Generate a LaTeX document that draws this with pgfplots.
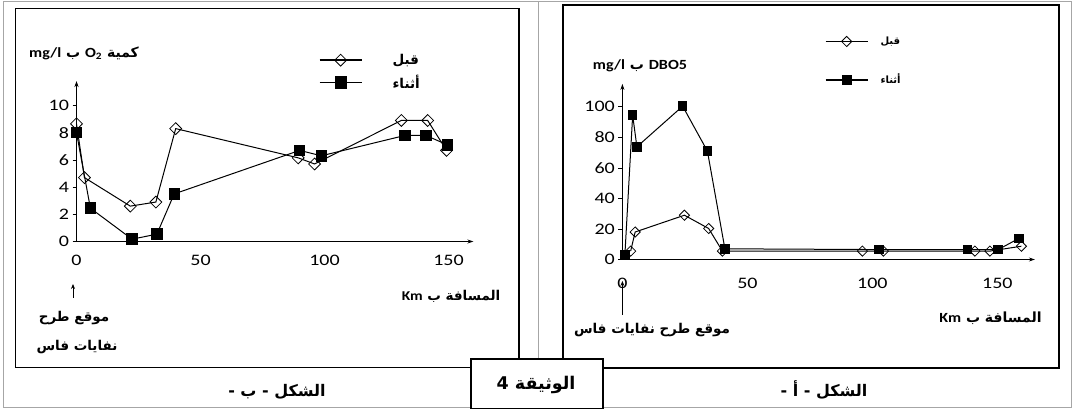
\documentclass[border=0pt]{standalone}
\usepackage{fontspec}
\usepackage{pgfplots}
\pgfplotsset{compat=1.18}
\usetikzlibrary{arrows.meta}
\setmainfont{Carlito}
\newfontfamily\arabicfont[Script=Arabic]{DejaVu Sans}
\newfontfamily\tickfont[FakeStretch=1.25]{Carlito}
\newfontfamily\latinb[FakeStretch=1.15]{Carlito}
\TeXXeTstate=1
\newcommand{\AR}[1]{{\arabicfont\bfseries\beginR #1\endR}}
\newcommand{\LT}[1]{\beginL{\latinb\bfseries #1}\endL}
\newcommand{\fs}[1]{\fontsize{#1}{#1}\selectfont}
\pgfplotsset{
  chartbase/.style={
    anchor=south west, enlargelimits=false, clip=false,
    axis lines=left,
    axis line style={line width=0.8pt, -{Stealth[length=6pt,width=4pt]}},
    xtick={0,50,100,150},
    xtick style={draw=none},
    ytick style={line width=0.6pt, black},
    tick align=outside, major tick length=4pt,
    tick label style={font=\tickfont\fs{16}},
    /pgf/number format/assume math mode=true,
    legend cell align=left,
    legend image code/.code={\draw[mark repeat=2,mark phase=2,#1] plot coordinates {(0pt,0pt) (21pt,0pt) (42pt,0pt)};},
    every legend image post/.style={line width=1.8pt},
  },
  before/.style={black, line width=1pt, mark=square, mark size=4.2pt, mark options={rotate=45, fill=white, solid, line width=0.8pt}},
  during/.style={black, line width=1pt, mark=square*, mark size=5.2pt, mark options={solid}},
}
\begin{document}
\begin{tikzpicture}[x=1pt,y=1pt]
\path (0,0) rectangle (1073,409);
% frames
\draw[gray!70, line width=1pt] (3,1) rectangle (538,407.5);
\draw[gray!70, line width=1pt] (538,1) rectangle (1071,407.5);
\draw[black, line width=1.6pt] (15.5,41.5) rectangle (519,400.5);
\draw[black, line width=1.6pt] (563,41) rectangle (1059,404);
\draw[black, line width=1.2pt, fill=white] (471,0.5) rectangle (603,50);
\node at (536,24) {\fs{17.5}\AR{الوثيقة 4}};
\node at (277,17.3) {\fs{16}\AR{الشكل - ب -}};
\node at (824,19) {\fs{16}\AR{الشكل - أ -}};

% ---------- Figure b (left) ----------
\begin{axis}[chartbase,
  at={(76.5pt,167.5pt)},
  x=2.48pt, y=13.6pt,
  xmin=0, xmax=160, ymin=0, ymax=11.8,
  ytick={0,2,4,6,8,10},
  xticklabel style={yshift=-6pt},
  legend style={draw=none, fill=none, at={(0.61,1.18)}, anchor=north west,
    inner sep=0pt, row sep=5pt, font=\fs{13.5},
    /tikz/every odd column/.append style={column sep=28pt}},
]
\addplot[before] coordinates {
(0,8.65) (3.2,4.7) (21.7,2.6) (32,2.9) (40,8.3) (89.4,6.15) (96,5.7) (131,8.9) (141.6,8.9) (149.2,6.7)};
\addlegendentry{\AR{قبل}}
\addplot[during] coordinates {
(0,8.0) (5.6,2.45) (22.4,0.17) (32.4,0.54) (39.4,3.5) (90,6.7) (98.7,6.3) (132.5,7.8) (140.9,7.8) (149.6,7.1)};
\addlegendentry{\AR{أثناء}}
\end{axis}
\node at (84,355.7) {\fs{14}\AR{كمية \LT{O\textsubscript{2}} ب \LT{mg/l}}};
\node at (451,112.3) {\fs{13.5}\AR{المسافة ب \LT{Km}}};
\draw[line width=0.8pt, -{Stealth[length=5pt,width=4pt]}] (73,111) -- (73,125);
\node at (74,91) {\fs{13.5}\AR{موقع طرح}};
\node at (77,62.3) {\fs{13.5}\AR{نفايات فاس}};

% ---------- Figure a (right) ----------
\begin{axis}[chartbase,
  at={(622.4pt,149.5pt)},
  x=2.5pt, y=1.527pt,
  xmin=0, xmax=165, ymin=0, ymax=115,
  ytick={0,20,40,60,80,100},
  xticklabel style={yshift=-11pt},
  reverse legend,
  legend style={draw=none, fill=none, at={(0.49,1.28)}, anchor=north west,
    inner sep=0pt, row sep=24pt, font=\fs{10},
    /tikz/every odd column/.append style={column sep=10pt}},
]
\addplot[during, mark size=4.2pt] coordinates {
(1,3.3) (4.1,94.5) (5.8,73.8) (24.1,100.4) (34,71) (41,7) (102.6,6.5) (138,6.5) (150.3,6.5) (158.6,13.8)};
\addlegendentry{\AR{أثناء}}
\addplot[before, mark size=3.6pt] coordinates {
(3.3,5.5) (5.1,18) (24.8,29) (34.5,20.3) (40,5.5) (96,5.5) (104.4,5.5) (141,5.5) (147,5.5) (159.6,8.7)};
\addlegendentry{\AR{قبل}}
\end{axis}
\node at (640,343) {\fs{14}\AR{\LT{DBO5} ب \LT{mg/l}}};
\node at (990.5,91) {\fs{14}\AR{المسافة ب \LT{Km}}};
\draw[line width=0.8pt, -{Stealth[length=5pt,width=4pt]}] (622.4,94) -- (622.4,128);
\node at (652,79) {\fs{13.5}\AR{موقع طرح نفايات فاس}};
\end{tikzpicture}
\end{document}
